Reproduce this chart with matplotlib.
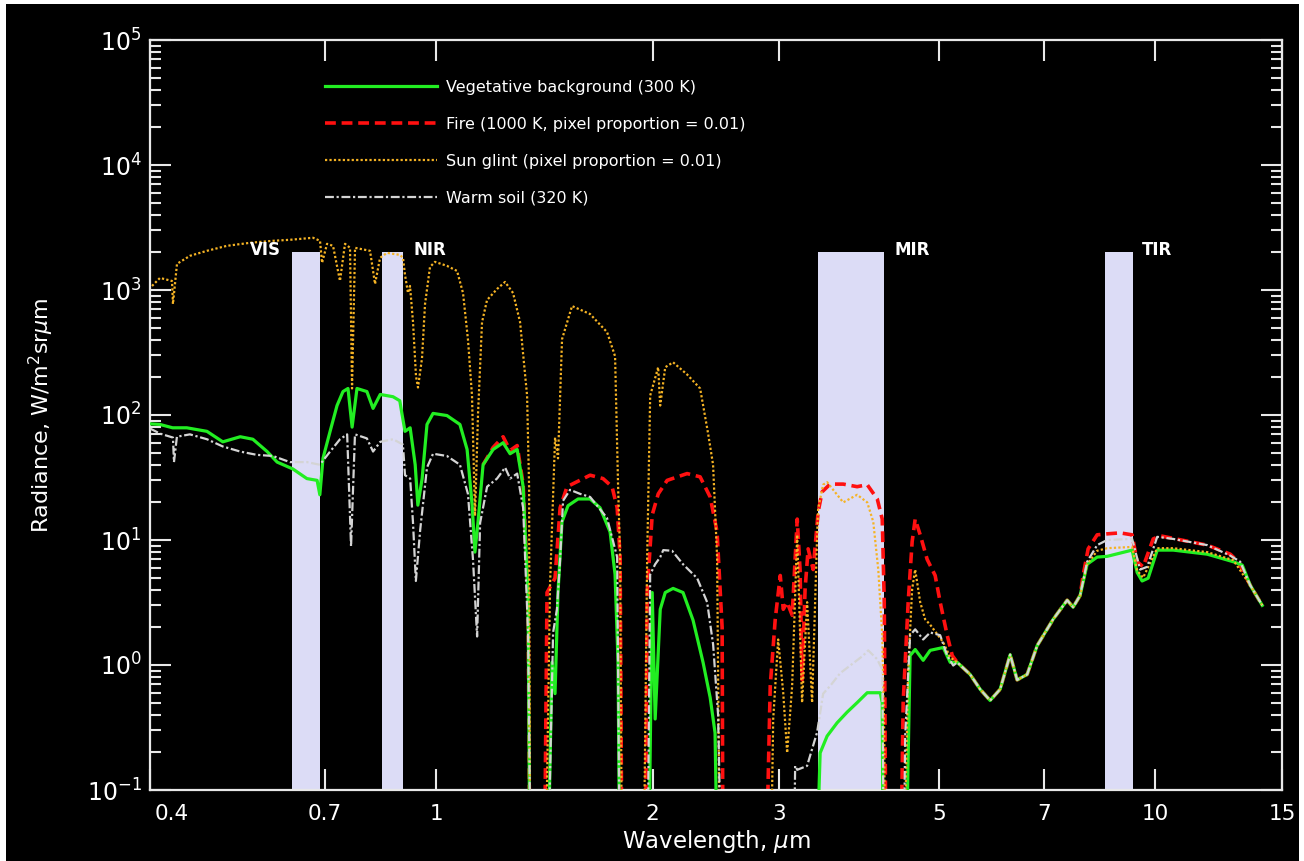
import numpy as np
import matplotlib
matplotlib.use("Agg")
import matplotlib.pyplot as plt
import matplotlib.transforms as mtransforms
from matplotlib.patches import Rectangle
from matplotlib.ticker import FixedLocator, NullLocator, NullFormatter

# spectral radiance curves, W/m^2/sr/um ; 0.01 marks where a curve drops out of the plot
OFF = 0.01

# part of the spectrum where all surfaces share the same curve (5.3 - 7.9 um)
merged_wl = [5.303, 5.527, 5.706, 5.892, 6.084, 6.282, 6.424, 6.633, 6.850, 7.209, 7.540, 7.685, 7.859]
merged_rad = [1.05, 0.84, 0.64, 0.52, 0.64, 1.21, 0.76, 0.84, 1.43, 2.32, 3.3, 2.9, 3.6]

veg_wl = [0.400, 0.413, 0.430, 0.450, 0.480, 0.505, 0.534, 0.556, 0.582, 0.601, 0.632, 0.661,
          0.683, 0.689, 0.696, 0.712, 0.728, 0.742, 0.754, 0.764, 0.776, 0.801, 0.817, 0.836,
          0.871, 0.890, 0.896, 0.905, 0.920, 0.935, 0.943, 0.956, 0.971, 0.990, 1.035, 1.079,
          1.104, 1.122, 1.132, 1.143, 1.162, 1.200, 1.239, 1.267, 1.296, 1.321, 1.342, 1.351,
          1.426, 1.449, 1.463, 1.477, 1.496, 1.525, 1.575, 1.637, 1.690, 1.745, 1.773, 1.790, 1.802,
          1.971, 1.997, 2.016, 2.049, 2.082, 2.135, 2.204, 2.276, 2.350, 2.404, 2.442, 2.466,
          3.364, 3.419, 3.496, 3.610, 3.728, 3.849, 3.975, 4.144, 4.171, 4.185,
          4.489, 4.560, 4.635, 4.755, 4.863, 5.070, 5.185]
veg_rad = [85, 84, 79, 79, 74, 61, 67, 64, 51, 42, 37, 31,
           30, 23, 45, 74, 119, 154, 163, 80, 163, 154, 113, 146,
           140, 130, 103, 74, 79, 40, 19, 31, 84, 103, 99, 84,
           53, 19, 8, 13.7, 40, 53, 60, 49, 53, 26.7, 3.55, OFF,
           OFF, 1.05, 0.59, 3.8, 14, 18.8, 21.3, 21.3, 18.1, 11.6, 5.3, 1.05, OFF,
           OFF, 3.8, 0.37, 2.79, 3.8, 4.1, 3.8, 2.28, 1.05, 0.55, 0.287, OFF,
           OFF, 0.198, 0.27, 0.345, 0.42, 0.50, 0.60, 0.60, 0.50, OFF,
           OFF, 1.19, 1.33, 1.09, 1.31, 1.38, 1.05]
veg_tir_wl = [8.038, 8.300, 8.570, 9.283, 9.434, 9.585, 9.772, 10.060, 10.588, 11.807, 12.834, 13.207, 13.549, 14.080]
veg_tir_rad = [6.4, 7.3, 7.4, 8.3, 5.5, 4.7, 4.95, 8.3, 8.3, 7.7, 6.7, 6.3, 4.35, 3.0]

fire_wl = [1.162, 1.200, 1.239, 1.267, 1.296, 1.321, 1.342, 1.351,
           1.4125, 1.426, 1.463, 1.487, 1.5205, 1.637, 1.706, 1.756, 1.785, 1.802, 1.814,
           1.953, 1.965, 1.997, 2.036, 2.095, 2.233, 2.328, 2.404, 2.458, 2.498, 2.506,
           2.867, 2.914, 2.961, 3.009, 3.038, 3.076, 3.126, 3.177, 3.206, 3.227, 3.258, 3.290,
           3.343, 3.397, 3.441, 3.530, 3.681, 3.849, 3.975, 4.105, 4.171, 4.198, 4.225,
           4.417, 4.460, 4.532, 4.590, 4.635, 4.710, 4.816, 4.941, 5.021, 5.135, 5.219]
fire_rad = [40, 55, 67, 52, 57, 28, 3.6, OFF,
            OFF, 3.8, 4.95, 18.1, 26.7, 33, 31, 26.7, 18.1, 7.3, OFF,
            OFF, 3.8, 15.9, 23.4, 30, 34, 32, 22.1, 11.6, 2.0, OFF,
            OFF, 0.68, 2.32, 5.2, 2.79, 3.18, 2.5, 14.7, 5.8, 0.76, 4.04, 8.5,
            5.8, 16.8, 24.3, 28, 28, 26.7, 27.7, 21.3, 14.7, 3.18, OFF,
            OFF, 0.50, 3.18, 9.7, 14.7, 11, 7, 5.2, 3.18, 1.73, 1.19]
fire_tir_wl = [7.935, 8.064, 8.300, 8.570, 8.933, 9.283, 9.434, 9.616, 9.931, 10.158, 11.807, 12.711, 13.040, 13.549, 14.080]
fire_tir_rad = [5.2, 8.5, 11, 11.2, 11.4, 11, 6.7, 6.1, 10.2, 10.8, 9.1, 7.7, 6.7, 4.35, 3.0]

glint_wl = [0.4026, 0.413, 0.4292, 0.4305, 0.4361, 0.4545, 0.480, 0.5117, 0.5509, 0.5929, 0.6261,
            0.6741, 0.6894, 0.6939, 0.7051, 0.7187, 0.7349, 0.7468, 0.7589, 0.7638, 0.7712, 0.8091,
            0.8222, 0.8355, 0.8543, 0.8710, 0.8906, 0.8992, 0.9050, 0.9137, 0.9196, 0.9285, 0.9374,
            0.9434, 0.9556, 0.9649, 0.9804, 0.9963, 1.0354, 1.0691, 1.0897, 1.1073, 1.1215, 1.1324,
            1.1434, 1.1581, 1.1768, 1.2152, 1.2467, 1.2791, 1.3081, 1.3378, 1.3464, 1.3508,
            1.4170, 1.4398, 1.4632, 1.4771, 1.4962, 1.5449, 1.6368, 1.7283, 1.7731, 1.7904, 1.8020, 1.8137,
            1.9401, 1.9650, 1.9841, 2.0355, 2.0487, 2.0820, 2.1350, 2.2329, 2.3281, 2.3884, 2.4266, 2.4581, 2.4820,
            2.9136, 2.9418, 2.9891, 3.0377, 3.0761, 3.1257, 3.1765, 3.2270, 3.2794, 3.3320, 3.3862,
            3.3971, 3.4516, 3.4963, 3.6808, 3.8492, 3.9752, 4.0525, 4.1183, 4.1712, 4.1982, 4.2118,
            4.4598, 4.5322, 4.5899, 4.6345, 4.7098, 4.7853, 4.8630, 5.0700, 5.1849]
glint_rad = [1077, 1249, 1181, 772, 1618, 1876, 2058, 2256, 2385, 2475, 2521,
             2617, 2475, 1648, 2341, 2256, 1181, 2341, 2175, 163, 2175, 2058,
             1117, 1807, 1983, 1946, 1910, 1807, 1320, 946, 1077, 553, 204,
             166, 284, 772, 1530, 1679, 1559, 1421, 946, 397, 143, 15.6,
             103, 553, 831, 1019, 1160, 946, 553, 143, 26.7, OFF,
             OFF, 4.35, 66, 45, 404, 744, 642, 460, 295, 26.7, 7.3, OFF,
             OFF, 7.3, 143, 241, 119, 241, 264, 211, 163, 71, 40, 7.3, OFF,
             OFF, 0.37, 1.6, 0.60, 0.198, 0.68, 11, 0.50, 3.18, 0.50, 11,
             17.7, 27.7, 29, 20, 23, 20, 14, 5.8, 1.73, 0.27, OFF,
             OFF, 0.92, 4.04, 5.8, 3.18, 2.32, 2.1, 1.52, 1.15]
glint_tir_wl = [8.038, 8.300, 8.570, 9.283, 9.434, 9.616, 10.060, 10.588, 11.807, 12.834, 13.549, 14.080]
glint_tir_rad = [6.4, 8.2, 8.6, 8.8, 5.7, 5.0, 8.6, 8.6, 8.0, 6.9, 4.35, 3.0]

soil_wl = [0.400, 0.413, 0.4305, 0.4319, 0.436, 0.4545, 0.480, 0.505, 0.534, 0.563, 0.593, 0.626,
           0.661, 0.689, 0.712, 0.735, 0.752, 0.7614, 0.771, 0.801, 0.817, 0.836, 0.871, 0.899,
           0.905, 0.920, 0.9285, 0.937, 0.950, 0.971, 0.990, 1.035, 1.079, 1.107, 1.125, 1.140,
           1.151, 1.177, 1.215, 1.247, 1.267, 1.296, 1.321, 1.342, 1.355,
           1.426, 1.454, 1.472, 1.487, 1.501, 1.535, 1.585, 1.637, 1.728, 1.785, 1.802,
           1.965, 1.984, 2.016, 2.049, 2.069, 2.128, 2.204, 2.306, 2.381, 2.427, 2.466, 2.498,
           3.136, 3.156, 3.177, 3.279, 3.386, 3.452, 3.530, 3.645, 3.764, 3.924, 3.988, 4.105, 4.171, 4.198,
           4.460, 4.489, 4.560, 4.635, 4.755, 4.863, 5.021, 5.135, 5.235]
soil_rad = [78, 71, 66, 42, 67, 70, 64, 56, 51, 48, 47, 42,
            42, 40, 51, 64, 70, 8.9, 70, 65, 51, 61, 64, 58,
            33, 31, 13.7, 4.7, 12, 38, 49, 47, 40, 23.4, 7, 1.69,
            13.7, 26.7, 31, 38, 31, 34, 18.1, 1.82, OFF,
            OFF, 1.82, 2.79, 7, 20.6, 25.2, 23.4, 22.1, 15, 7.3, OFF,
            OFF, 5.3, 6.4, 7.3, 8.3, 8.2, 6.4, 4.95, 3.18, 1.46, 0.40, OFF,
            OFF, 0.156, 0.145, 0.156, 0.29, 0.59, 0.68, 0.86, 0.99, 1.19, 1.31, 1.11, 0.92, OFF,
            OFF, 0.27, 1.73, 1.93, 1.6, 1.82, 1.73, 1.19, 0.99]
soil_tir_wl = [8.038, 8.300, 8.570, 9.283, 9.524, 9.741, 10.060, 10.588, 11.807, 12.711, 13.122, 13.549, 14.080]
soil_tir_rad = [6.7, 9.1, 10.0, 10.2, 5.8, 6.1, 10.6, 10.2, 9.1, 7.5, 6.7, 4.35, 3.0]

# sensor bands (um) and their labels
band_edges = [(0.63, 0.69), (0.84, 0.90), (3.4, 4.2), (8.5, 9.3)]
band_top = 2000
band_names = ["VIS", "NIR", "MIR", "TIR"]
band_label_wl = [0.578, 0.98, 4.59, 10.06]

xtick_vals = [0.4, 0.7, 1, 2, 3, 5, 7, 10, 15]
xtick_labels = ["0.4", "0.7", "1", "2", "3", "5", "7", "10", "15"]
ytick_vals = [1e-1, 1e0, 1e1, 1e2, 1e3, 1e4, 1e5]
ytick_minor = [m * 10.0 ** e for e in range(-1, 5) for m in range(2, 10)]

series_labels = ["Vegetative background (300 K)",
                 "Fire (1000 K, pixel proportion = 0.01)",
                 "Sun glint (pixel proportion = 0.01)",
                 "Warm soil (320 K)"]

plt.rcParams['font.family'] = ['DejaVu Sans']
plt.rcParams['mathtext.fontset'] = 'dejavusans'

fig = plt.figure(figsize=(13.04, 8.61), dpi=100)
fig.patch.set_facecolor('white')
fig.add_artist(Rectangle((6 / 1304, 0), 1293 / 1304, 857 / 861, transform=fig.transFigure,
                         facecolor='black', edgecolor='none', zorder=-10))

ax = fig.add_axes([150 / 1304, 71 / 861, 1132 / 1304, 750 / 861])
ax.set_facecolor('black')
ax.set_xscale('log')
ax.set_yscale('log')

for (lo, hi) in band_edges:
    ax.fill_between([lo, hi], [1e-3, 1e-3], [band_top, band_top], color='#dcdcf6', lw=0, zorder=1)

def full(wl, rad, tir_wl, tir_rad):
    return (np.array(wl + merged_wl + tir_wl), np.array(rad + merged_rad + tir_rad))

x, y = full(fire_wl, fire_rad, fire_tir_wl, fire_tir_rad)
l_fire, = ax.plot(x, y, color='#ff1010', lw=2.6, ls=(0, (3.0, 1.6)), zorder=2, label=series_labels[1])
x, y = full(veg_wl, veg_rad, veg_tir_wl, veg_tir_rad)
l_veg, = ax.plot(x, y, color='#22ee22', lw=2.3, zorder=3, label=series_labels[0])
x, y = full(glint_wl, glint_rad, glint_tir_wl, glint_tir_rad)
l_glint, = ax.plot(x, y, color='#f5b324', lw=1.6, ls=(0, (1, 1)), zorder=4, label=series_labels[2])
x, y = full(soil_wl, soil_rad, soil_tir_wl, soil_tir_rad)
l_soil, = ax.plot(x, y, color='#d4d4d4', lw=1.6, ls=(0, (4, 1.2, 1, 1.2)), zorder=5, label=series_labels[3])

for name, wl in zip(band_names, band_label_wl):
    ax.text(wl, 2080, name, color='white', fontsize=12, fontweight='bold', ha='center', va='center', zorder=6)

ax.set_xlim(0.4, 15)
ax.set_ylim(0.1, 1e5)

ax.xaxis.set_major_locator(FixedLocator(xtick_vals))
ax.set_xticklabels(xtick_labels)
ax.xaxis.set_minor_locator(NullLocator())
ax.yaxis.set_major_locator(FixedLocator(ytick_vals))
ax.yaxis.set_minor_locator(FixedLocator(ytick_minor))
ax.yaxis.set_minor_formatter(NullFormatter())

ax.tick_params(which='both', direction='in', top=True, right=True, color='#e8e8e8',
               labelcolor='white', width=1.5)
ax.tick_params(which='major', length=15, pad=10)
ax.tick_params(which='minor', length=8)
ax.tick_params(axis='x', which='major', labelsize=15.5)
ax.tick_params(axis='y', which='major', pad=6, labelsize=17)
for s in ax.spines.values():
    s.set_color('#e8e8e8')
    s.set_linewidth(1.6)

# first wavelength label sits just right of the corner
first = ax.get_xticklabels()[0]
first.set_transform(first.get_transform() + mtransforms.ScaledTranslation(22 / 100, 0, fig.dpi_scale_trans))

ax.set_xlabel(r'Wavelength, $\mu$m', color='white', fontsize=16.5, labelpad=3)
ax.set_ylabel(r'Radiance, W/m$^2$sr$\mu$m', color='white', fontsize=16, labelpad=22)

leg = ax.legend(handles=[l_veg, l_fire, l_glint, l_soil], loc='upper left',
                bbox_to_anchor=(0.1546, 0.947), frameon=False, fontsize=11.5,
                handlelength=7.0, handletextpad=0.55, labelspacing=1.38,
                borderpad=0, borderaxespad=0, labelcolor='white')

fig.savefig('out.png', dpi=100, facecolor=fig.get_facecolor())
